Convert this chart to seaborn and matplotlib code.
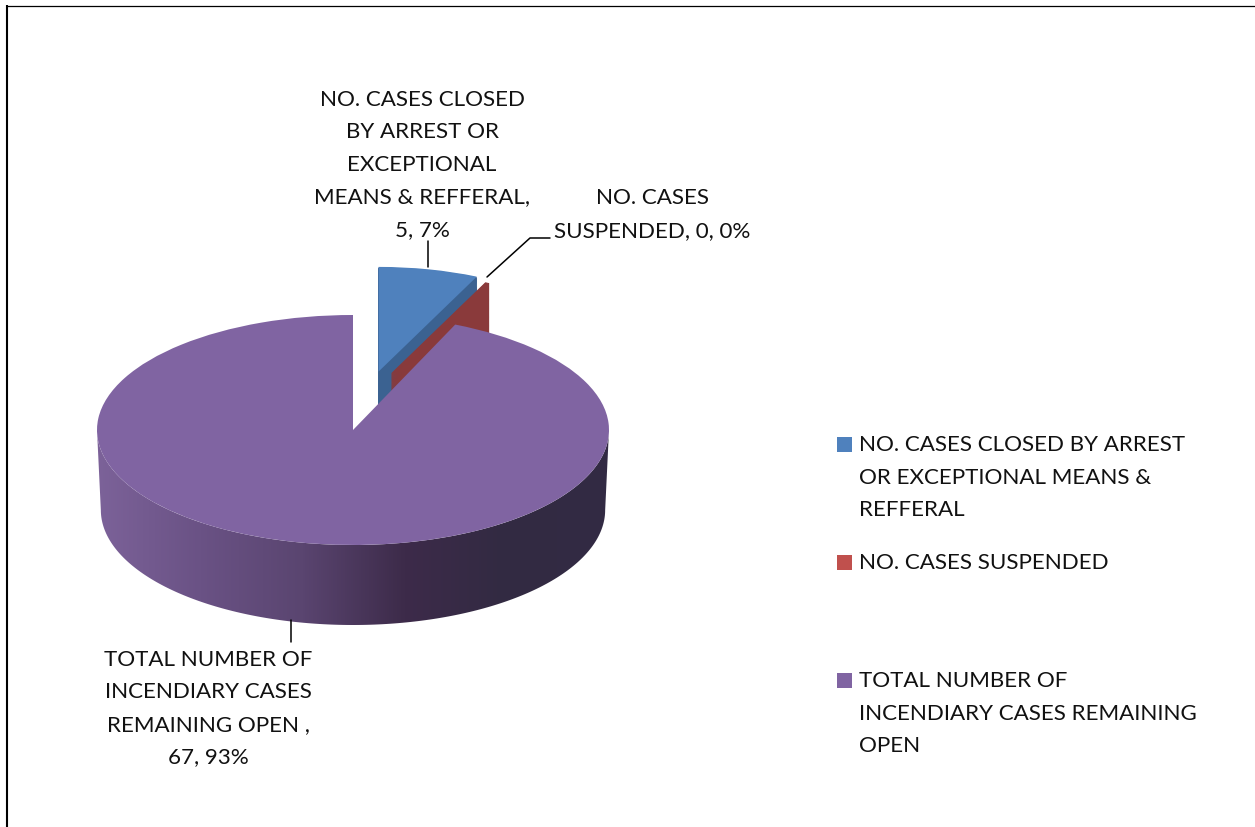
import numpy as np
import matplotlib
matplotlib.use("Agg")
import matplotlib.pyplot as plt
from matplotlib.patches import Polygon, Rectangle
import seaborn as sns

# data
values = [5, 0.2, 67]  # suspended is labelled 0 but drawn as a sliver
series_names = ["NO. CASES CLOSED BY ARREST OR EXCEPTIONAL MEANS & REFFERAL",
                "NO. CASES SUSPENDED",
                "TOTAL NUMBER OF INCENDIARY CASES REMAINING OPEN"]

label_blue = ["NO. CASES CLOSED", "BY ARREST OR", "EXCEPTIONAL", "MEANS & REFFERAL,", "5, 7%"]
label_red = ["NO. CASES", "SUSPENDED, 0, 0%"]
label_purple = ["TOTAL NUMBER OF", "INCENDIARY CASES", "REMAINING OPEN ,", "67, 93%"]

legend_blue = ["NO. CASES CLOSED BY ARREST", "OR EXCEPTIONAL MEANS &", "REFFERAL"]
legend_red = ["NO. CASES SUSPENDED"]
legend_purple = ["TOTAL NUMBER OF", "INCENDIARY CASES REMAINING", "OPEN"]

top_colors = ["#4f81bd", "#c0504d", "#8064a2"]
wall_colors = ["#3b6291", "#8a3a3b"]

sns.set_theme(style="white")
plt.rcParams["font.family"] = ["Lato", "DejaVu Sans"]

W, H = 1255, 827
RX, RY = 256.0, 115.0
CX, CY = 353.0, 430.0
DEPTH = 80.0 / RY
FS = 16.1
LINE_H = 32.6

fig = plt.figure(figsize=(W / 100, H / 100), dpi=100, facecolor="white")
ax = fig.add_axes([0, 0, 1, 1])


def slice_layer(idx, color, explode=0.0, radius=1.0, dx=0.0, dy=0.0, z=1, edge=0.0):
    cols = ["none"] * 3
    cols[idx] = color
    exp = [0.0] * 3
    exp[idx] = explode
    wedges, _ = ax.pie(values, colors=cols, explode=exp, radius=radius, center=(dx, dy),
                       startangle=90, counterclock=False,
                       wedgeprops={"linewidth": 0, "zorder": z})
    if edge:
        wedges[idx].set_edgecolor(color)
        wedges[idx].set_linewidth(edge)
    return wedges[idx]


# blue slice, side then top
for d in np.linspace(DEPTH, 0.01, 90):
    slice_layer(0, wall_colors[0], explode=0.5, radius=0.91, dx=-0.008, dy=0.02 - d, z=1, edge=0.6)
slice_layer(0, top_colors[0], explode=0.5, radius=0.91, dx=-0.008, dy=0.02, z=2)

# red sliver
for d in np.linspace(DEPTH, 0, 90):
    slice_layer(1, wall_colors[1], explode=0.5, radius=0.87, dx=-0.064, dy=0.04 - d, z=3, edge=0.6)

# purple side with shading
t = np.linspace(np.pi, 2 * np.pi, 200)
rim_top = np.column_stack([np.cos(t), np.sin(t)])
rim_bot = np.column_stack([0.985 * np.cos(t), np.sin(t) - DEPTH])[::-1]
wall = Polygon(np.vstack([rim_top, rim_bot]), closed=True, transform=ax.transData,
               facecolor="none", edgecolor="none")
ax.add_patch(wall)
shade = sns.blend_palette(["#7c6299", "#6a5285", "#5a4570", "#3d2b4a", "#322a42", "#332a44"],
                          n_colors=256, as_cmap=True)
img = ax.imshow(np.linspace(0, 1, 256).reshape(1, -1), cmap=shade, aspect="auto",
                extent=(-1, 1, -2, 1), zorder=4)
img.set_clip_path(wall)

# purple top, far edge nudged for the perspective of the original
top = slice_layer(2, top_colors[2], z=5)
top.set_theta2(top.theta2 + 2.4)

ax.set_aspect("auto")
ax.set_xlim(-CX / RX, (W - CX) / RX)
ax.set_ylim(-(H - CY) / RY, CY / RY)
ax.axis("off")

# overlay in pixels for frame, leaders and text
over = fig.add_axes([0, 0, 1, 1], facecolor="none")
over.set_xlim(0, W)
over.set_ylim(H, 0)
over.axis("off")

over.plot([7, 7], [5, H], color="black", lw=1.5, solid_capstyle="butt")
over.plot([6, W], [5.5, 5.5], color="black", lw=0.9, solid_capstyle="butt")

# leader lines
over.plot([428, 428], [267, 241], color="black", lw=1.1)
over.plot([487, 530, 550], [277, 238, 238], color="black", lw=1.1)
over.plot([291, 291], [620, 642], color="black", lw=1.1)


def put_lines(lines, x, y0, ha="center"):
    for i, s in enumerate(lines):
        over.text(x, y0 + i * LINE_H, s, ha=ha, va="center", fontsize=FS, color="#111111")


put_lines(label_blue, 422, 99.5)
put_lines(label_red, 652, 198.5)
put_lines(label_purple, 208, 659.5)

# legend
for col, lines, y0 in zip(top_colors, [legend_blue, legend_red, legend_purple], [445, 563, 681]):
    over.add_patch(Rectangle((837, y0 - 8.5), 15, 15, facecolor=col, edgecolor="none"))
    put_lines(lines, 859, y0, ha="left")

fig.savefig("out.png", dpi=100)
